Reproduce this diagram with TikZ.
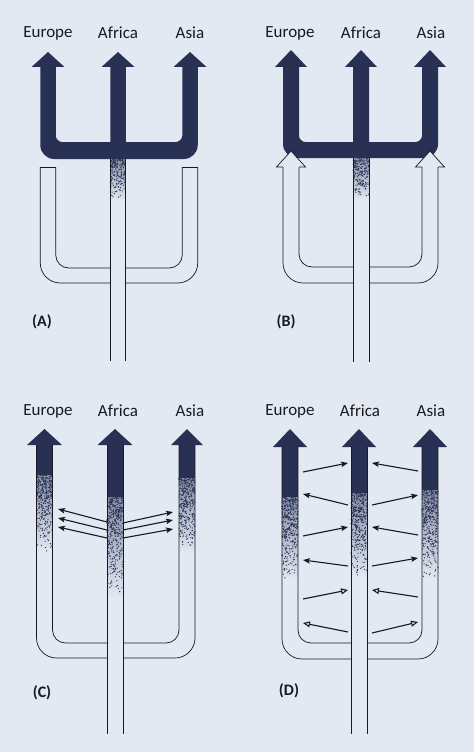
\documentclass[tikz,border=0pt]{standalone}
\usepackage{fontspec}
\setmainfont{Carlito}
\usetikzlibrary{arrows.meta}
\definecolor{bg}{RGB}{226,233,242}
\definecolor{dk}{RGB}{40,49,84}
\definecolor{ink}{RGB}{25,25,30}
\tikzset{
  outl/.style={draw=ink, line width=0.7pt},
  ttl/.style={text=ink, font=\fontsize{17}{20}\selectfont, inner sep=0pt},
  plbl/.style={text=ink, font=\bfseries\fontsize{16}{19}\selectfont, inner sep=0pt},
  garr/.style={draw=ink, line width=1.1pt, -{Stealth[length=7pt,width=5.5pt,inset=1.5pt]}},
  oarr/.style={draw=ink, line width=1.1pt, -{Triangle[open,length=7pt,width=6pt]}},
}
% U-shaped outline below the arms: L C R w ytop yinner youter
\newcommand\ubase[7]{%
  \draw[outl] ({#2-#4},#6) -- ({#1+#4+13},#6) .. controls ({#1+#4+5.8},#6) and ({#1+#4},{#6-5.8}) .. ({#1+#4},{#6-13}) -- ({#1+#4},#5);
  \draw[outl] ({#1-#4},#5) -- ({#1-#4},{#7-20}) .. controls ({#1-#4},{#7-9}) and ({#1-#4+9},#7) .. ({#1-#4+20},#7) -- ({#2-#4},#7);
  \draw[outl] ({#2+#4},#6) -- ({#3-#4-13},#6) .. controls ({#3-#4-5.8},#6) and ({#3-#4},{#6-5.8}) .. ({#3-#4},{#6-13}) -- ({#3-#4},#5);
  \draw[outl] ({#3+#4},#5) -- ({#3+#4},{#7-20}) .. controls ({#3+#4},{#7-9}) and ({#3+#4-9},#7) .. ({#3+#4-20},#7) -- ({#2+#4},#7);
}
% dark trident: L C R w ytip ybase hw ybartop ybarbot
\newcommand\darktri[9]{%
  \fill[dk] (#1,#5) -- ({#1+#7},#6) -- ({#1+#4},#6) -- ({#1+#4},{#8-6})
      .. controls ({#1+#4},{#8-3.3}) and ({#1+#4+3.3},#8) .. ({#1+#4+6},#8)
   -- ({#2-#4},#8) -- ({#2-#4},#6) -- ({#2-#7},#6) -- (#2,#5) -- ({#2+#7},#6) -- ({#2+#4},#6) -- ({#2+#4},#8)
   -- ({#3-#4-6},#8) .. controls ({#3-#4-3.3},#8) and ({#3-#4},{#8-3.3}) .. ({#3-#4},{#8-6})
   -- ({#3-#4},#6) -- ({#3-#7},#6) -- (#3,#5)
   -- ({#3+#7},#6) -- ({#3+#4},#6) -- ({#3+#4},{#9-14})
      .. controls ({#3+#4},{#9-6.3}) and ({#3+#4-6.3},#9) .. ({#3+#4-14},#9)
   -- ({#1-#4+14},#9) .. controls ({#1-#4+6.3},#9) and ({#1-#4},{#9-6.3}) .. ({#1-#4},{#9-14})
   -- ({#1-#4},#6) -- ({#1-#7},#6) -- cycle;
}
% stipple: x0 x1 y0 y1 n
\newcommand\stipplebox[5]{%
  \shade[top color=dk!50!bg, bottom color=bg] (#1,#3) rectangle (#2,#4);
  \foreach \i in {1,...,#5}{%
    \pgfmathsetmacro\sx{(#1)+((#2)-(#1))*rnd}%
    \pgfmathsetmacro\sy{(#3)+((#4)-(#3))*(1-sqrt(rnd))}%
    \fill[dk] (\sx,\sy) circle[radius=0.65pt];}%
}
% shaft: xc w ytop ydarkend yfadeend ndots
\newcommand\shaft[6]{%
  \fill[dk] ({#1-#2},#3) rectangle ({#1+#2},#4);
  \stipplebox{#1-#2}{#1+#2}{#4}{#5}{#6}%
}
% head: xc hw ytip ybase
\newcommand\headfill[4]{%
  \fill[dk] ({#1-#2},#4) -- (#1,#3) -- ({#1+#2},#4) -- cycle;
}
\begin{document}
\begin{tikzpicture}[x=1pt,y=-1pt]
\pgfmathsetseed{7}
\fill[bg] (0,0) rectangle (474,752);
\useasboundingbox (0,0) rectangle (474,752);

% ---------------- Panel A ----------------
\node[ttl] (eA) at (48,33) {Europe};
\node[ttl] (fA) at (118,33) {Africa};
\node[ttl] (aA) at (190,33) {Asia};
\darktri{48}{118}{190}{7.75}{52}{67}{16.5}{142}{159}
\stipplebox{110.25}{125.75}{159}{201}{180}
\ubase{48}{118}{190}{7.75}{167}{268}{283}
\draw[outl] (40.25,167) -- (55.75,167);
\draw[outl] (182.25,167) -- (197.75,167);
\draw[outl] (110.25,159) -- (110.25,361);
\draw[outl] (125.75,159) -- (125.75,361);
\node[plbl] (lA) at (42,322) {(A)};

% ---------------- Panel B ----------------
\node[ttl] (eB) at (290,33) {Europe};
\node[ttl] (fB) at (361,33) {Africa};
\node[ttl] (aB) at (431,33) {Asia};
\darktri{291}{361}{430}{8}{50}{67}{16}{142}{158}
\stipplebox{353}{369}{158}{200}{180}
\ubase{291}{361}{430}{8}{167}{267}{283}
\filldraw[outl, fill=bg] (283,167) -- (276.5,167) -- (291,151) -- (305.5,167) -- (299,167);
\filldraw[outl, fill=bg] (422,167) -- (415.5,167) -- (430,151) -- (444.5,167) -- (438,167);
\draw[outl] (353,158) -- (353,362);
\draw[outl] (369,158) -- (369,362);
\node[plbl] (lB) at (286,322) {(B)};

% ---------------- Panel C ----------------
\node[ttl] (eC) at (48,411) {Europe};
\node[ttl] (fC) at (118,411) {Africa};
\node[ttl] (aC) at (190,411) {Asia};
\headfill{44.5}{17.5}{429}{445}
\headfill{115}{17.5}{429}{445}
\headfill{187}{16}{429}{445}
\shaft{44.5}{8}{445}{475}{552}{340}
\shaft{115}{8}{445}{497}{598}{400}
\shaft{187}{8}{445}{478}{553}{340}
\ubase{44.5}{115}{187}{8}{445}{643}{658}
\draw[outl] (107,445) -- (107,734);
\draw[outl] (123,445) -- (123,734);
\foreach \n/\ax/\ay/\bx/\by in {c1/107/522/58/509, c2/107/530/58/518, c3/107/538/58/527,
                               c4/123/523/173/512, c5/123/530/173/520, c6/123/538/173/529}{
  \coordinate (\n a) at (\ax,\ay);
  \coordinate (\n b) at (\bx,\by);
  \draw[garr] (\n a) -- (\n b);
}
\node[plbl] (lC) at (42,693) {(C)};

% ---------------- Panel D ----------------
\node[ttl] (eD) at (290,411) {Europe};
\node[ttl] (fD) at (360,411) {Africa};
\node[ttl] (aD) at (431,411) {Asia};
\headfill{290}{17}{429}{447}
\headfill{359}{17}{429}{447}
\headfill{430}{17}{429}{447}
\shaft{290}{8}{447}{497}{580}{380}
\shaft{359}{8}{447}{493}{578}{380}
\shaft{430}{8}{447}{490}{579}{380}
\ubase{290}{359}{430}{8}{447}{643}{659}
\draw[outl] (351,447) -- (351,734);
\draw[outl] (367,447) -- (367,734);
\foreach \n/\ax/\ay/\bx/\by in {d1/303/472/348/463, d2/348/505/303/494, d3/303/536/348/527,
                               d4/348/566/303/560,
                               d7/418/471/372/463, d8/372/505/418/495, d9/418/535/372/527,
                               d10/372/566/418/558}{
  \coordinate (\n a) at (\ax,\ay);
  \coordinate (\n b) at (\bx,\by);
  \draw[garr] (\n a) -- (\n b);
}
\foreach \n/\ax/\ay/\bx/\by in {d5/303/599/348/590, d6/348/632/303/623,
                               d11/418/597/372/590, d12/372/633/418/622}{
  \coordinate (\n a) at (\ax,\ay);
  \coordinate (\n b) at (\bx,\by);
  \draw[oarr] (\n a) -- (\n b);
}
\node[plbl] (lD) at (289,691) {(D)};
\end{tikzpicture}
\end{document}
